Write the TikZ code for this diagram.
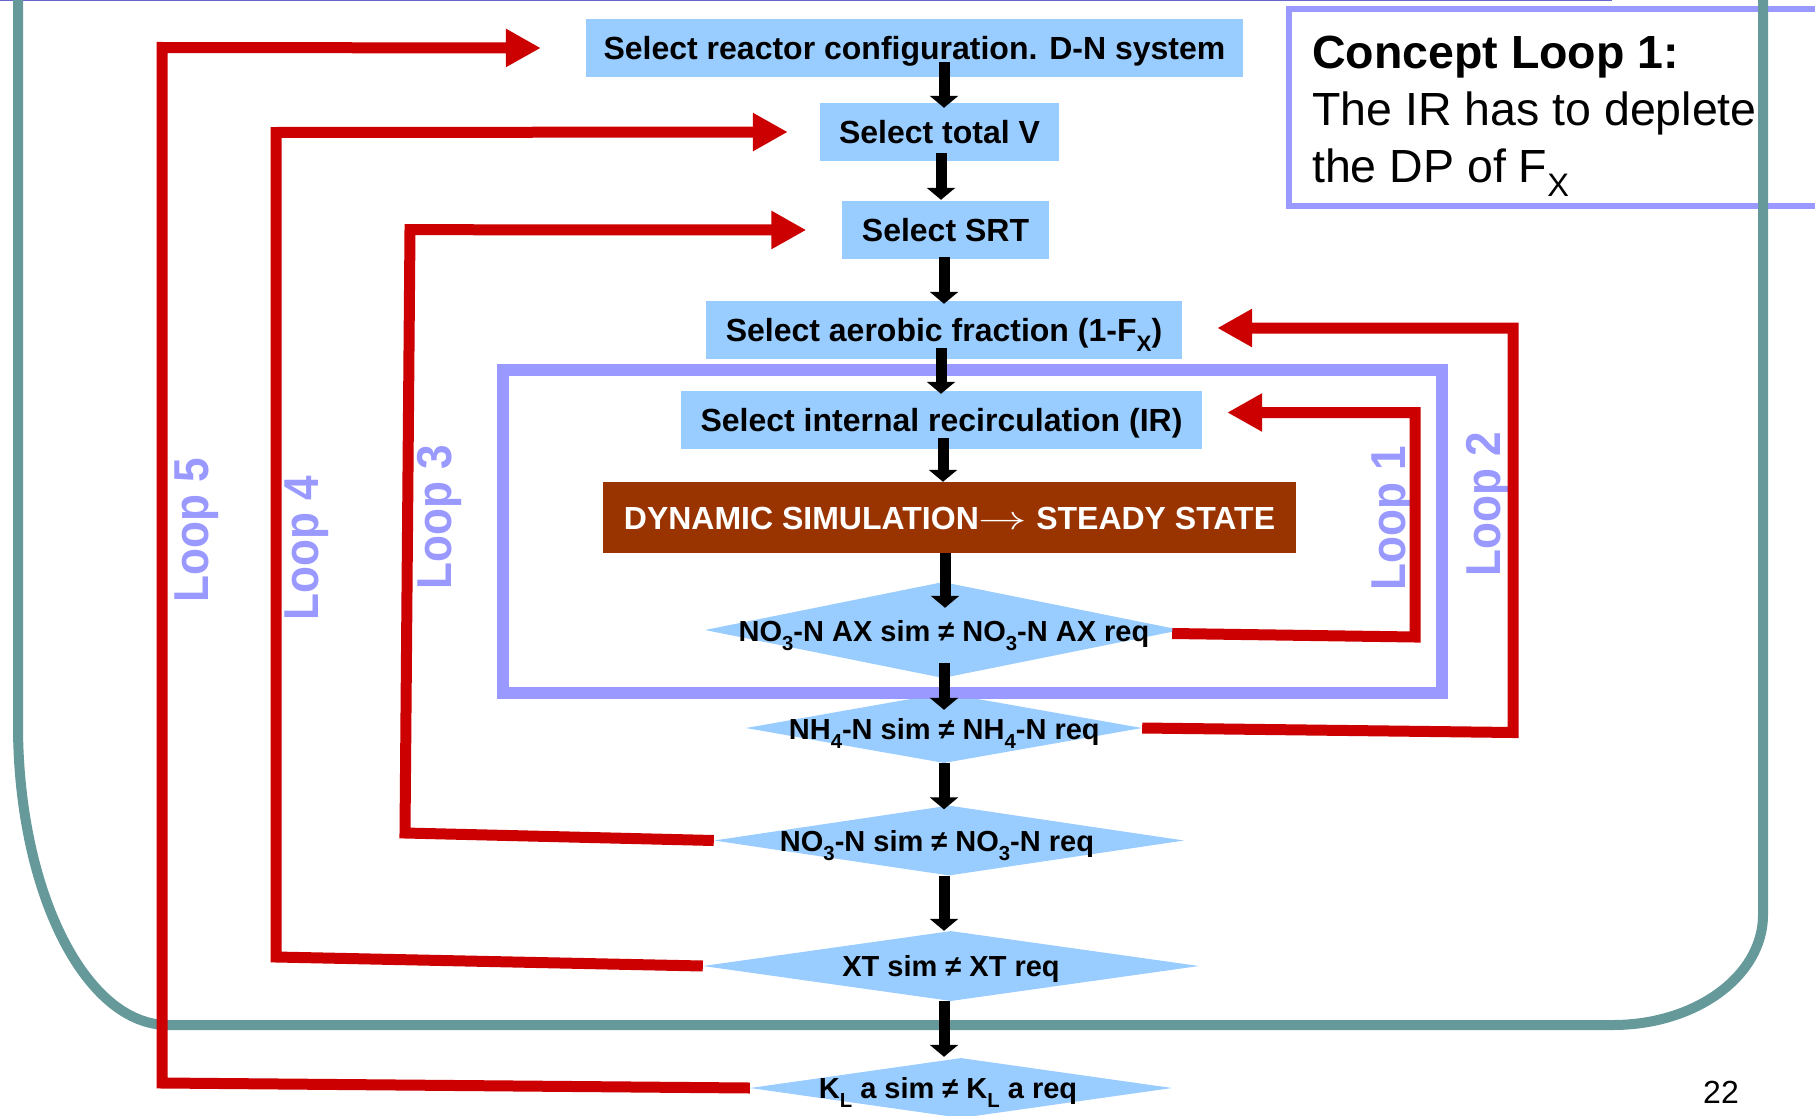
\documentclass[tikz,border=0pt]{standalone}
\usepackage{fontspec}
\setmainfont{Liberation Sans}
\usetikzlibrary{arrows.meta,shapes.geometric,calc}
\definecolor{boxblue}{HTML}{99CCFF}
\definecolor{simbrown}{HTML}{993300}
\definecolor{loopred}{HTML}{CC0000}
\definecolor{lilac}{HTML}{9999FF}
\definecolor{frameteal}{HTML}{669999}
\definecolor{topblue}{HTML}{6666CC}
\newcommand\dsub[1]{\raisebox{-0.3em}{\scalebox{0.7}{#1}}}
\newcommand\looptxt[1]{\scalebox{0.9}[1]{#1}}
\tikzset{
  box/.style={fill=boxblue, inner sep=0pt, minimum height=58pt,
    font=\fontsize{32}{38}\selectfont\bfseries, text height=23pt, text depth=0pt},
  dia/.style={diamond, fill=boxblue, inner sep=0pt, draw=none},
  dtext/.style={inner sep=0pt, font=\fontsize{29}{35}\selectfont\bfseries,
    text height=20.8pt, text depth=0pt},
  looplbl/.style={rotate=90, anchor=base, inner sep=0pt, text=lilac,
    font=\fontsize{49}{58}\selectfont\bfseries},
  redarrow/.style={draw=loopred, line width=11pt, line join=miter,
    -{Triangle[length=35pt,width=36pt]}},
  blkarrow/.style={draw=black, line width=11pt,
    -{Triangle[length=12pt,width=28pt]}},
  concept/.style={anchor=base west, inner sep=0pt,
    font=\fontsize{46.5}{57}\selectfont}
}
\begin{document}
\begin{tikzpicture}[x=1pt,y=-1pt]
\useasboundingbox (0,0) rectangle (1815,1116);
\clip (0,0) rectangle (1815,1116);
\fill[white] (0,0) rectangle (1815,1116);

% top line
\draw[topblue, line width=2.5pt] (0,0) -- (1612,0);

% concept box
\node[draw=lilac, line width=6pt, inner sep=0pt, minimum width=551pt,
  minimum height=197pt] (cbox) at (1564.5,107.5) {};

% teal frame
\draw[frameteal, line width=10pt] (18,-20) -- (18,725)
  .. controls (18,890.7) and (85.2,1025) .. (168,1025) -- (1613,1025)
  .. controls (1695.8,1025) and (1763,975.8) .. (1763,915) -- (1763,-20);

% concept text
\node[concept, font=\fontsize{46.5}{57}\selectfont\bfseries] (c1) at (1312,68) {Concept Loop 1:};
\node[concept] (c2) at (1312,125) {The IR has to deplete};
\node[concept] (c3) at (1312,182.7) {the DP of F\dsub{X}};

% boxes
\node[box, minimum width=657pt] (b1) at (914.5,48) {Select reactor configuration. D-N system};
\node[box, minimum width=239pt] (b2) at (939.5,132) {Select total V};
\node[box, minimum width=207pt] (b3) at (945.5,230) {Select SRT};
\node[box, minimum width=476pt] (b4) at (944,330) {Select aerobic fraction (1-F\dsub{X})};
\node[box, minimum width=521pt] (b5) at (941.5,420) {Select internal recirculation (IR)};
\node[box, fill=simbrown, text=white, minimum width=693pt, minimum height=71pt]
  (b6) at (949.5,517.5) {DYNAMIC SIMULATION\scalebox{1.95}[1.35]{$\rightarrow$} STEADY STATE};

% diamonds
\node[dia, minimum width=476pt, minimum height=96pt] (d1) at (943,630) {};
\node[dia, minimum width=396pt, minimum height=70pt] (d2) at (944,728) {};
\node[dia, minimum width=470pt, minimum height=70pt] (d3) at (949,840.5) {};
\node[dia, minimum width=496pt, minimum height=70pt] (d4) at (951,966) {};
\node[dia, minimum width=422pt, minimum height=60pt] (d5) at (961,1088) {};
\node[dtext] (t1) at (944,631) {NO\dsub{3}-N AX sim ≠ NO\dsub{3}-N AX req};
\node[dtext] (t2) at (944.3,729) {NH\dsub{4}-N sim ≠ NH\dsub{4}-N req};
\node[dtext] (t3) at (937,841) {NO\dsub{3}-N sim ≠ NO\dsub{3}-N req};
\node[dtext] (t4) at (951,966) {XT sim ≠ XT req};
\node[dtext] (t5) at (948,1088) {K\dsub{L} a sim ≠ K\dsub{L} a req};

% IR loop box
\node[draw=lilac, line width=12pt, inner sep=0pt, minimum width=939pt,
  minimum height=323pt] (irbox) at (972.5,531) {};

% loop labels
\node[looplbl] (l5) at (208,530) {\looptxt{Loop 5}};
\node[looplbl] (l4) at (318,548) {\looptxt{Loop 4}};
\node[looplbl] (l3) at (451,517) {\looptxt{Loop 3}};
\node[looplbl] (l1) at (1405,518) {\looptxt{Loop 1}};
\node[looplbl] (l2) at (1500,504.5) {\looptxt{Loop 2}};

% red loops
\draw[redarrow] (d5.west) -- (162,1083) -- (162,47.5) -- ($(b1.west)+(-45,0)$);
\draw[redarrow] (d4.west) -- (276,957) -- (276,132.5) -- ($(b2.west)+(-32,0)$);
\draw[redarrow] (d3.west) -- (405,833) -- (410,229.7) -- ($(b3.west)+(-35.5,0)$);
\draw[redarrow] (d2.east) -- (1513,732.5) -- (1513,328) -- ($(b4.east)+(35,-2)$);
\draw[redarrow] ($(d1.east)+(-9,3.5)$) -- (1415,637) -- (1415,412.5) -- ($(b5.east)+(25,-7.5)$);

% black arrows
\coordinate (X) at (944,0);
\draw[blkarrow] ($(b1.south -| X)+(0,-15)$) -- ($(b2.north -| X)+(0,5)$);
\draw[blkarrow] ($(b2.south -| X)+(-3,-8)$) -- ($(b3.north -| X)+(-3,-1)$);
\draw[blkarrow] ($(b3.south -| X)+(0,-2)$) -- ($(b4.north -| X)+(0,3)$);
\draw[blkarrow] ($(b4.south -| X)+(-3,-11)$) -- ($(b5.north -| X)+(-3,3)$);
\draw[blkarrow] ($(b5.south -| X)+(-1,-11)$) -- ($(b6.north -| X)+(-1,0)$);
\draw[blkarrow] ($(b6.south -| X)+(1,0)$) -- ($(d1.north -| X)+(1,26)$);
\draw[blkarrow] ($(d1.south -| X)+(0,-15)$) -- ($(d2.north -| X)+(0,17)$);
\draw[blkarrow] (d2.south -| X) -- ($(d3.north -| X)+(0,4)$);
\draw[blkarrow] (d3.south -| X) -- (d4.north -| X);
\draw[blkarrow] (d4.south -| X) -- ($(d5.north -| X)+(0,-1)$);

% page number
\node[anchor=base west, inner sep=0pt, font=\fontsize{32}{38}\selectfont] (pg) at (1703,1103) {22};
\end{tikzpicture}
\end{document}
